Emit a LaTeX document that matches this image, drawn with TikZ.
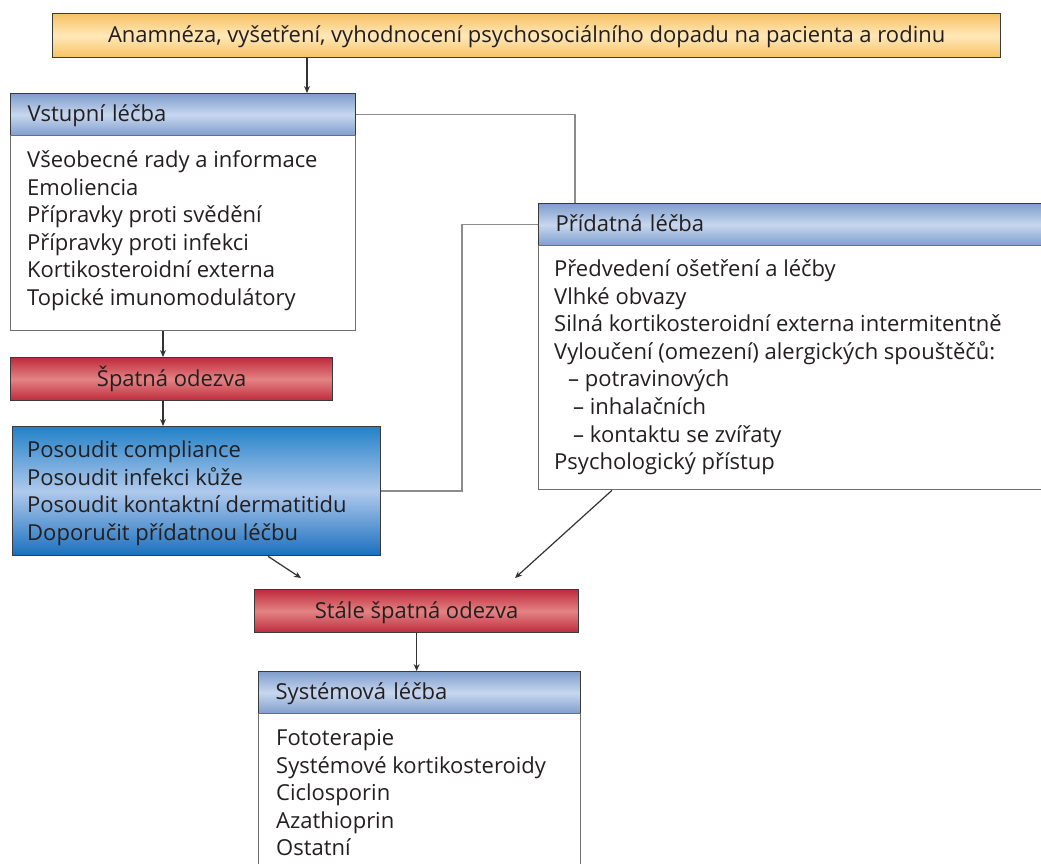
\documentclass[tikz,border=0pt]{standalone}
\usepackage{fontspec}
\setmainfont{Open Sans}
\usetikzlibrary{arrows.meta}
\definecolor{txt}{HTML}{231F20}
\definecolor{bordc}{HTML}{3A3A3A}
\definecolor{bodyc}{HTML}{6E6E6E}
\definecolor{connc}{HTML}{8C8C8C}
\definecolor{arrc}{HTML}{333333}
\definecolor{orA}{HTML}{F7C265}
\definecolor{orB}{HTML}{FFE8B8}
\definecolor{blA}{HTML}{7F9DCD}
\definecolor{blB}{HTML}{C7D7EE}
\definecolor{rdA}{HTML}{BF2A3C}
\definecolor{rdB}{HTML}{E38384}
\definecolor{bbA}{HTML}{2381C8}
\definecolor{bbB}{HTML}{AFC9EC}
\definecolor{bbC}{HTML}{1A6FBE}
\begin{document}
\begin{tikzpicture}[x=1pt,y=-1pt,
  font=\fontsize{22}{27.6}\selectfont, text=txt,
  box/.style={anchor=north west, inner ysep=0pt, text height=17pt, text depth=3pt},
  topbox/.style={box, draw=bordc, line width=1.3pt, top color=orA, bottom color=orA, middle color=orB},
  hdr/.style={box, draw=bordc, line width=1.3pt, top color=blA, bottom color=blA, middle color=blB, inner xsep=17pt, align=left, minimum height=42pt},
  redbox/.style={box, draw=bordc, line width=1.3pt, top color=rdA, bottom color=rdA, middle color=rdB, minimum height=43pt},
  bodybox/.style={anchor=north west, draw=bodyc, line width=1.3pt, fill=white, inner sep=0pt},
  bluebox/.style={anchor=north west, draw=bordc, line width=1.3pt, top color=bbA, bottom color=bbC, middle color=bbB, inner sep=0pt},
  list/.style={anchor=north west, inner sep=0pt, align=left},
  conn/.style={draw=connc, line width=1.4pt},
  arr/.style={draw=arrc, line width=1.2pt, -{Stealth[length=7pt,width=6pt]}}
]
\useasboundingbox (0,0) rectangle (1041,863);

% top box
\node[topbox, minimum width=948pt, minimum height=44pt] (top) at (52,13)
  {Anamnéza, vyšetření, vyhodnocení psychosociálního dopadu na pacienta a rodinu};

% Vstupní léčba
\node[hdr, text width=311pt] (vhdr) at (10,93) {Vstupní léčba};
\node[bodybox, minimum width=345pt, minimum height=195pt] (vbody) at (10,135) {};
\node[list] (vlist) at (27,148) {\strut Všeobecné rady a informace\\Emoliencia\\Přípravky proti svědění\\Přípravky proti infekci\\Kortikosteroidní externa\\Topické imunomodulátory};

% Špatná odezva
\node[redbox, minimum width=322pt] (spat) at (10,357) {Špatná odezva};

% blue box
\node[bluebox, minimum width=368pt, minimum height=129pt] (blue) at (12,426) {};
\node[list] (blist) at (27,438) {\strut Posoudit compliance\\Posoudit infekci kůže\\Posoudit kontaktní dermatitidu\\Doporučit přídatnou léčbu};

% Přídatná léčba
\node[hdr, text width=478pt] (phdr) at (538,203) {Přídatná léčba};
\node[bodybox, minimum width=512pt, minimum height=244pt] (pbody) at (538,245) {};
\node[list] (plist) at (554,257) {\strut Předvedení ošetření a léčby\\Vlhké obvazy\\Silná kortikosteroidní externa intermitentně\\Vyloučení (omezení) alergických spouštěčů:\\\hspace*{14pt}– potravinových\\\hspace*{19pt}– inhalačních\\\hspace*{19pt}– kontaktu se zvířaty\\Psychologický přístup};

% Stále špatná odezva
\node[redbox, minimum width=324pt] (stale) at (254,589) {Stále špatná odezva};

% Systémová léčba
\node[hdr, text width=288pt] (shdr) at (258,671) {Systémová léčba};
\node[bodybox, minimum width=322pt, minimum height=220pt] (sbody) at (258,713) {};
\node[list] (slist) at (276,726) {\strut Fototerapie\\Systémové kortikosteroidy\\Ciclosporin\\Azathioprin\\Ostatní};

% helper coordinates
\coordinate (x307) at (307,0);
\coordinate (x163) at (163,0);
\coordinate (x575) at (575,0);
\coordinate (x462) at (462,0);
\coordinate (x268) at (268,0);
\coordinate (x612) at (612,0);
\coordinate (d1e) at (301,578);
\coordinate (d2e) at (515,578);

% connectors
\draw[arr] (top.south -| x307) -- (vhdr.north -| x307);
\draw[conn] (vhdr.east) -| (phdr.north -| x575);
\draw[conn] (blue.east) -| (x462 |- phdr.west) -- (phdr.west);
\draw[arr] (vbody.south -| x163) -- (spat.north -| x163);
\draw[arr] (spat.south -| x163) -- (blue.north -| x163);
\draw[arr] (blue.south -| x268) -- (d1e);
\draw[arr] (pbody.south -| x612) -- (d2e);
\draw[arr] (stale.south) -- (stale.south |- shdr.north);
\end{tikzpicture}
\end{document}
